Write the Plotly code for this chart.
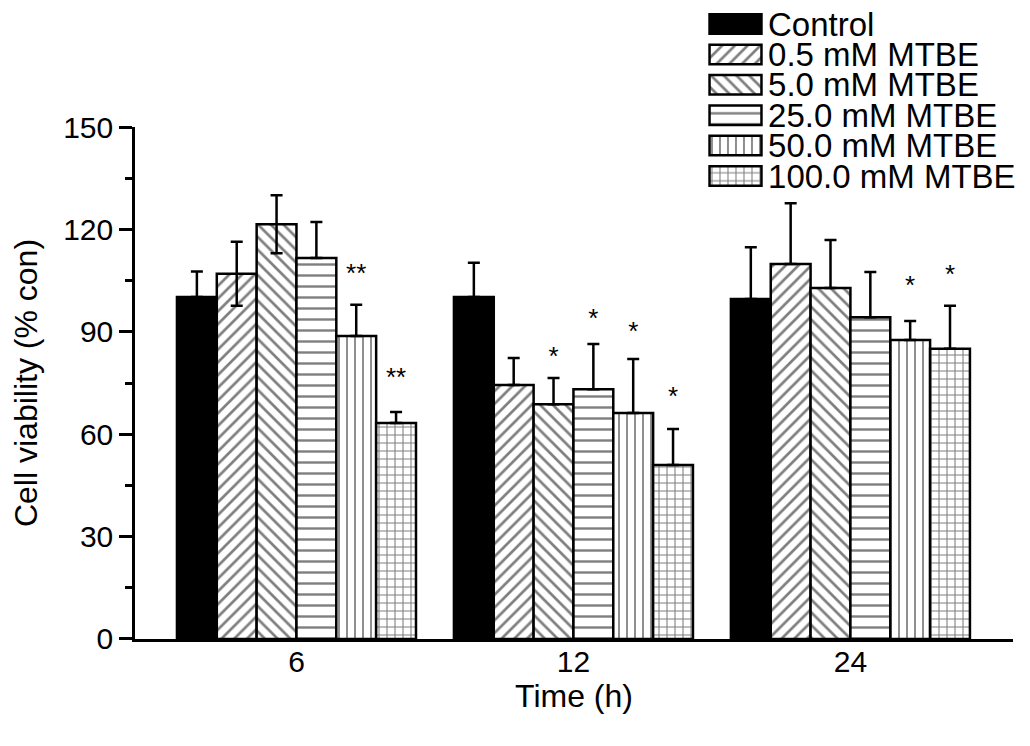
import plotly.graph_objects as go

times = ["6", "12", "24"]
series = ["Control", "0.5 mM MTBE", "5.0 mM MTBE", "25.0 mM MTBE",
          "50.0 mM MTBE", "100.0 mM MTBE"]

# mean cell viability (% con) per series, at 6, 12, 24 h
control = [100.2, 100.2, 99.6]
mtbe_0_5 = [107.0, 74.4, 109.9]
mtbe_5 = [121.5, 68.8, 102.8]
mtbe_25 = [111.6, 73.2, 94.3]
mtbe_50 = [88.8, 66.2, 87.6]
mtbe_100 = [63.3, 51.0, 85.0]

# error bars (upper / lower)
err_control = [7.5, 10.0, 15.2]
err_0_5 = [9.4, 7.9, 17.8]
err_5 = [8.5, 7.7, 14.1]
err_25 = [10.6, 13.2, 13.2]
err_50 = [9.1, 15.8, 5.6]
err_100 = [3.2, 10.5, 12.6]
errm_0_5 = [9.4, 0, 0]
errm_5 = [8.5, 0, 0]

# significance marks and where they sit
sig_5 = ["", "*", ""]
sig_25 = ["", "*", ""]
sig_50 = ["**", "*", "*"]
sig_100 = ["**", "*", "*"]
sig_y_5 = [None, 82.3, None]
sig_y_25 = [None, 93.4, None]
sig_y_50 = [106.6, 89.6, 103.1]
sig_y_100 = [76.1, 70.6, 106.3]

means = [control, mtbe_0_5, mtbe_5, mtbe_25, mtbe_50, mtbe_100]
errs = [err_control, err_0_5, err_5, err_25, err_50, err_100]
errms = [[0, 0, 0], errm_0_5, errm_5, [0, 0, 0], [0, 0, 0], [0, 0, 0]]
sigs = [["", "", ""], ["", "", ""], sig_5, sig_25, sig_50, sig_100]
sig_ys = [[None] * 3, [None] * 3, sig_y_5, sig_y_25, sig_y_50, sig_y_100]

patterns = [
    dict(shape="", bgcolor="black"),
    dict(shape="/", size=9, solidity=0.3, fgcolor="black", bgcolor="white"),
    dict(shape="\\", size=9, solidity=0.3, fgcolor="black", bgcolor="white"),
    dict(shape="-", size=11, solidity=0.22, fgcolor="black", bgcolor="white"),
    dict(shape="|", size=8, solidity=0.22, fgcolor="black", bgcolor="white"),
    dict(shape="+", size=8, solidity=0.25, fgcolor="black", bgcolor="white"),
]
fills = ["black", "white", "white", "white", "white", "white"]

FONT = "Liberation Sans, Arial, sans-serif"

fig = go.Figure()
for i, name in enumerate(series):
    fig.add_trace(go.Bar(
        x=times, y=means[i], name=name, offsetgroup=str(i),
        marker=dict(color=fills[i], pattern=patterns[i],
                    line=dict(color="black", width=2.5)),
        error_y=dict(type="data", symmetric=False, array=errs[i],
                     arrayminus=errms[i], color="black", thickness=2.5, width=6),
        showlegend=False,
    ))
for i, name in enumerate(series):
    fig.add_trace(go.Scatter(
        x=times, y=sig_ys[i], text=sigs[i], mode="text", offsetgroup=str(i),
        textfont=dict(size=26, color="black", family=FONT),
        showlegend=False, hoverinfo="skip",
    ))

# legend drawn as a small horizontal bar chart
for i, name in enumerate(series):
    fig.add_trace(go.Bar(
        x=[1], y=[name], orientation="h", xaxis="x2", yaxis="y2",
        width=0.64, offset=-0.32,
        marker=dict(color=fills[i], pattern=patterns[i],
                    line=dict(color="black", width=2.5)),
        showlegend=False, hoverinfo="skip",
    ))

fig.update_layout(
    width=1022, height=738,
    margin=dict(l=127, r=17, t=0, b=107, autoexpand=False),
    paper_bgcolor="white", plot_bgcolor="white",
    font=dict(family=FONT, size=30, color="black"),
    barmode="group", bargap=0.137, bargroupgap=0,
    scattermode="group", scattergap=0.137,
    xaxis=dict(
        type="category", range=[-0.583, 2.587], domain=[0, 1],
        showline=True, linecolor="black", linewidth=2.5,
        ticks="", showgrid=False, zeroline=False, automargin=False,
        tickfont=dict(size=30), ticklabelstandoff=-6,
        title=dict(text="Time (h)", font=dict(size=32), standoff=0),
    ),
    yaxis=dict(
        range=[0, 150], domain=[0, 0.8114],
        tickvals=[0, 30, 60, 90, 120, 150],
        showline=True, linecolor="black", linewidth=2.5,
        ticks="outside", ticklen=13, tickwidth=2.5, tickcolor="black",
        minor=dict(dtick=15, ticks="outside", ticklen=7, tickwidth=2.5,
                   tickcolor="black", showgrid=False),
        showgrid=False, zeroline=False, automargin=False, tickfont=dict(size=30),
        title=dict(text="Cell viability (% con)", font=dict(size=32), standoff=16),
    ),
    xaxis2=dict(domain=[0.6526, 0.7153], anchor="y2", range=[-0.03, 1.03],
                visible=False, fixedrange=True),
    yaxis2=dict(domain=[0.7097, 0.9987], anchor="x2", side="right",
                type="category", categoryorder="array", categoryarray=series,
                tickmode="array", tickvals=series, ticktext=series,
                autorange="reversed", showline=False, ticks="",
                showgrid=False, zeroline=False, automargin=False,
                tickfont=dict(size=33), ticklabelstandoff=4),
)

fig.write_html("out.html")
